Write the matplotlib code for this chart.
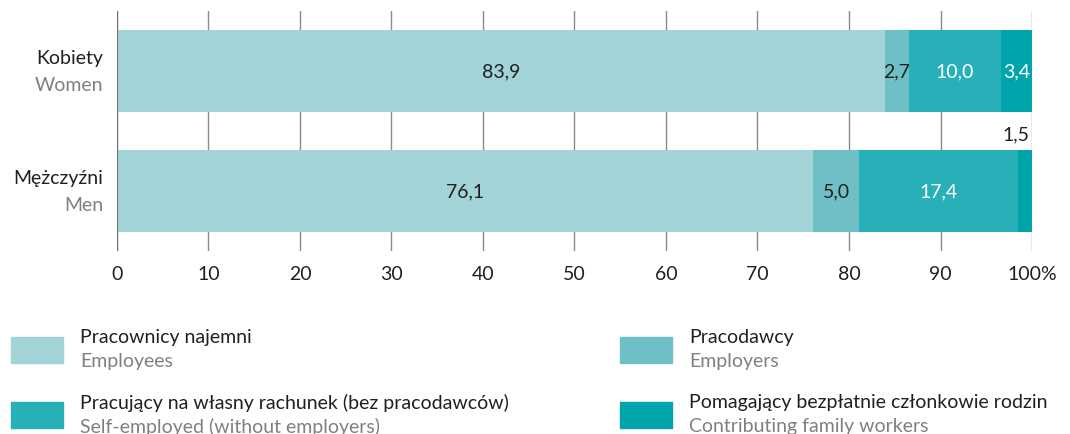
import matplotlib.pyplot as plt
from matplotlib.patches import Rectangle

plt.rcParams['font.family'] = ['Lato', 'DejaVu Sans']

# dane
grupy_pl = ["Mężczyźni", "Kobiety"]
grupy_en = ["Men", "Women"]
kategorie_pl = ["Pracownicy najemni", "Pracodawcy",
                "Pracujący na własny rachunek (bez pracodawców)",
                "Pomagający bezpłatnie członkowie rodzin"]
kategorie_en = ["Employees", "Employers",
                "Self-employed (without employers)",
                "Contributing family workers"]
mezczyzni = [76.1, 5.0, 17.4, 1.5]
kobiety = [83.9, 2.7, 10.0, 3.4]
kolory = ["#A1D3D7", "#6EC0C6", "#27B0B7", "#00A4AB"]
kolory_tekstu = ["#231f20", "#231f20", "white", "white"]
ticki = [0, 10, 20, 30, 40, 50, 60, 70, 80, 90, 100]

FS = 14

fig = plt.figure(figsize=(10.7, 4.35), dpi=100)
ax = fig.add_axes([0.1093, 0.4207, 0.8552, 0.5517])

wartosci = [mezczyzni, kobiety]
for y, wiersz in enumerate(wartosci):
    lewo = 0
    for i, v in enumerate(wiersz):
        ax.barh(y, v, left=lewo, height=0.69, color=kolory[i], zorder=2)
        tekst = f"{v:.1f}".replace(".", ",")
        if v < 2:
            # mala wartosc - etykieta nad paskiem
            ax.text(lewo + v - 0.3, y + 0.48, tekst, ha='right', va='center',
                    fontsize=FS, color="#231f20")
        else:
            ax.text(lewo + v / 2, y, tekst, ha='center', va='center',
                    fontsize=FS, color=kolory_tekstu[i])
        lewo += v

ax.set_xlim(0, 100)
ax.set_ylim(-0.5, 1.5)
ax.set_xticks(ticki)
ax.set_xticklabels([str(t) if t < 100 else "100%" for t in ticki],
                   fontsize=FS, color="#231f20")
ax.tick_params(axis='x', length=0, pad=10)
ax.set_yticks([])
for s in ax.spines.values():
    s.set_visible(False)
ax.grid(axis='x', color="#8a8a8a", linewidth=1, zorder=0)
ax.axvline(0, color="#6d6d6d", linewidth=1.5, zorder=3)

for y in range(len(grupy_pl)):
    ax.text(-0.015, y + 0.11, grupy_pl[y], transform=ax.get_yaxis_transform(),
            ha='right', va='center', fontsize=FS, color="#231f20")
    ax.text(-0.015, y - 0.11, grupy_en[y], transform=ax.get_yaxis_transform(),
            ha='right', va='center', fontsize=FS, color="#808080")

# legenda recznie
W, H = 1070.0, 435.0
pozycje = [(11, 338), (620, 338), (11, 403), (620, 403)]
for i, (px, py) in enumerate(pozycje):
    fig.patches.append(Rectangle((px / W, 1 - (py + 26) / H), 52 / W, 26 / H,
                                 transform=fig.transFigure, color=kolory[i]))
    fig.text((px + 69) / W, 1 - (py) / H, kategorie_pl[i], fontsize=FS,
             color="#231f20", va='center')
    fig.text((px + 69) / W, 1 - (py + 24) / H, kategorie_en[i], fontsize=FS,
             color="#808080", va='center')

fig.savefig("out.png", dpi=100)
